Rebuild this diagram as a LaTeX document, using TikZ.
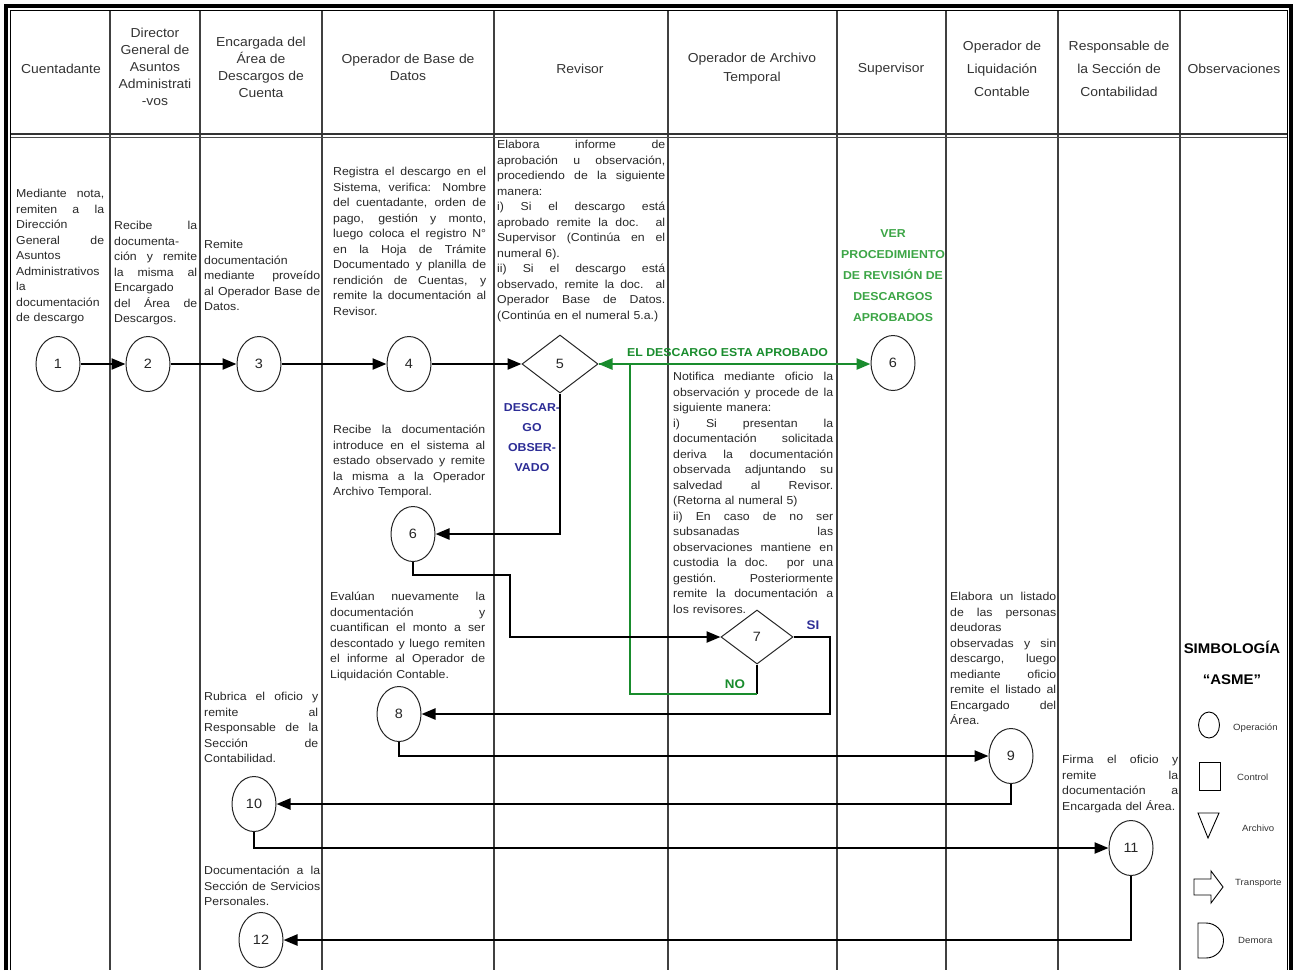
\documentclass[tikz,border=0pt]{standalone}
\usepackage{fontspec}
\setmainfont{Liberation Sans}[FakeStretch=1.07]
\usetikzlibrary{arrows.meta,shapes.geometric}
\definecolor{grn}{RGB}{25,140,45}
\definecolor{lgrn}{RGB}{60,165,70}
\definecolor{nav}{RGB}{45,45,150}
\definecolor{txt}{RGB}{40,40,40}
\newcommand\J[1]{\makebox[\linewidth][s]{\spaceskip=0pt\xspaceskip=0pt\relax #1}}
\newcommand\tsz{\fontsize{11.5}{15.5}\selectfont}
\begin{document}
\begin{tikzpicture}[x=1pt,y=-1pt,
 op/.style={ellipse, draw=black!85, line width=1pt, minimum width=44pt, minimum height=55pt, inner sep=0pt, font=\fontsize{13.5}{15}\selectfont, text=black!85},
 dec/.style={diamond, draw=black!85, line width=1pt, inner sep=0pt, font=\fontsize{13.5}{15}\selectfont, text=black!85},
 flow/.style={line width=2.3pt, draw=black, -{Triangle[length=14pt,width=11pt]}},
 gflow/.style={line width=2.6pt, draw=grn, -{Triangle[length=14pt,width=11pt]}},
 colline/.style={line width=1.1pt, draw=black!75},
 hdr/.style={align=center, font=\fontsize{13}{17}\selectfont, text=black!80, inner sep=0pt},
 body/.style={anchor=north west, inner sep=0pt, text width=#1, align=left, font=\tsz, text=txt},
 lab/.style={font=\fontsize{9}{10}\selectfont, text=black!80, anchor=west, inner sep=0pt},
]
\useasboundingbox (0,0) rectangle (1297,970);
% frame and columns
\foreach \x in {110,200,322,494,668,837,946,1058,1180} \draw[colline] (\x,10.5) -- (\x,970);
\draw[line width=1.2pt, black!80] (10.5,134) -- (1287,134);
\draw[line width=0.7pt, black!70] (10.5,137.5) -- (1287,137.5);
\draw[line width=3.2pt] (6,970) -- (6,6) -- (1291,6) -- (1291,970);
\draw[line width=0.7pt] (10.5,970) -- (10.5,10.5) -- (1287,10.5) -- (1287,970);
% headers
\node[hdr] (h1) at (61,69) {Cuentadante};
\node[hdr] (h2) at (155,67) {Director\\General de\\Asuntos\\Administrati\\-vos};
\node[hdr] (h3) at (261,67) {Encargada del\\Área de\\Descargos de\\Cuenta};
\node[hdr] (h4) at (408,67) {Operador de Base de\\Datos};
\node[hdr] (h5) at (580,69) {Revisor};
\node[hdr, font=\fontsize{13}{19}\selectfont] (h6) at (752,69) {Operador de Archivo\\Temporal};
\node[hdr] (h7) at (891,69) {Supervisor};
\node[hdr, font=\fontsize{13}{23}\selectfont] (h8) at (1002,69) {Operador de\\Liquidación\\Contable};
\node[hdr, font=\fontsize{13}{23}\selectfont] (h9) at (1119,69) {Responsable de\\la Sección de\\Contabilidad};
\node[hdr] (h10) at (1234,69) {Observaciones};
% text blocks
\node[body=88pt] (t1) at (16,189) {\J{Mediante nota,}\\ \J{remiten a la}\\ Dirección\\ \J{General de}\\ Asuntos\\ Administrativos\\ la\\ documentación\\ de descargo};
\node[body=83pt] (t2) at (114,221) {\J{Recibe la}\\ documenta-\\ \J{ción y remite}\\ \J{la misma al}\\ Encargado\\ \J{del Área de}\\ Descargos.};
\node[body=116pt] (t3) at (204,240) {Remite\\ documentación\\ \J{mediante proveído}\\ \J{al Operador Base de}\\ Datos.};
\node[body=153pt] (t4) at (333,167) {\J{Registra el descargo en el}\\ \J{Sistema, verifica: Nombre}\\ \J{del cuentadante, orden de}\\ \J{pago, gestión y monto,}\\ \J{luego coloca el registro N°}\\ \J{en la Hoja de Trámite}\\ \J{Documentado y planilla de}\\ \J{rendición de Cuentas, y}\\ \J{remite la documentación al}\\ Revisor.};
\node[body=168pt] (t5) at (497,140) {\J{Elabora informe de}\\ \J{aprobación u observación,}\\ \J{procediendo de la siguiente}\\ manera:\\ \J{i) Si el descargo está}\\ \J{aprobado remite la doc. al}\\ \J{Supervisor (Continúa en el}\\ numeral 6).\\ \J{ii) Si el descargo está}\\ \J{observado, remite la doc. al}\\ \J{Operador Base de Datos.}\\ (Continúa en el numeral 5.a.)};
\node[body=160pt] (t6) at (673,372) {\J{Notifica mediante oficio la}\\ \J{observación y procede de la}\\ siguiente manera:\\ \J{i) Si presentan la}\\ \J{documentación solicitada}\\ \J{deriva la documentación}\\ \J{observada adjuntando su}\\ \J{salvedad al Revisor.}\\ (Retorna al numeral 5)\\ \J{ii) En caso de no ser}\\ \J{subsanadas las}\\ \J{observaciones mantiene en}\\ \J{custodia la doc. por una}\\ \J{gestión. Posteriormente}\\ \J{remite la documentación a}\\ los revisores.};
\node[body=152pt] (t7) at (333,425) {\J{Recibe la documentación}\\ \J{introduce en el sistema al}\\ \J{estado observado y remite}\\ \J{la misma a la Operador}\\ Archivo Temporal.};
\node[body=155pt] (t8) at (330,592) {\J{Evalúan nuevamente la}\\ \J{documentación y}\\ \J{cuantifican el monto a ser}\\ \J{descontado y luego remiten}\\ \J{el informe al Operador de}\\ Liquidación Contable.};
\node[body=114pt] (t9) at (204,692) {\J{Rubrica el oficio y}\\ \J{remite al}\\ \J{Responsable de la}\\ \J{Sección de}\\ Contabilidad.};
\node[body=116pt] (t10) at (204,866) {\J{Documentación a la}\\ \J{Sección de Servicios}\\ Personales.};
\node[body=106pt] (t11) at (950,592) {\J{Elabora un listado}\\ \J{de las personas}\\ deudoras\\ \J{observadas y sin}\\ \J{descargo, luego}\\ \J{mediante oficio}\\ \J{remite el listado al}\\ \J{Encargado del}\\ Área.};
\node[body=116pt] (t12) at (1062,755) {\J{Firma el oficio y}\\ \J{remite la}\\ \J{documentación a}\\ Encargada del Área.};
% green / blue labels
\node[font=\fontsize{11.5}{21}\selectfont\bfseries, text=lgrn, align=center, inner sep=0pt] (ver) at (893,276) {VER\\PROCEDIMIENTO\\DE REVISIÓN DE\\DESCARGOS\\APROBADOS};
\node[font=\fontsize{11.5}{13}\selectfont\bfseries, text=grn, anchor=west, inner sep=0pt] (apr) at (627,353) {EL DESCARGO ESTA APROBADO};
\node[font=\fontsize{11.5}{20}\selectfont\bfseries, text=nav, align=center, inner sep=0pt] (obs) at (532,438) {DESCAR-\\GO\\OBSER-\\VADO};
\node[font=\fontsize{12.5}{14}\selectfont\bfseries, text=nav, inner sep=0pt] (si) at (813,625) {SI};
\node[font=\fontsize{12.5}{14}\selectfont\bfseries, text=grn, inner sep=0pt] (no) at (735,684) {NO};
% flow nodes
\node[op] (n1) at (58,364) {1};
\node[op] (n2) at (148,364) {2};
\node[op] (n3) at (259,364) {3};
\node[op] (n4) at (409,364) {4};
\node[dec, minimum width=76pt, minimum height=58pt] (n5) at (560,364) {5};
\node[op] (n6s) at (893,363) {6};
\node[op] (n6) at (413,534) {6};
\node[dec, minimum width=72pt, minimum height=54pt] (n7) at (757,637) {7};
\node[op] (n8) at (399,714) {8};
\node[op] (n9) at (1011,756) {9};
\node[op] (n10) at (254,804) {10};
\node[op] (n11) at (1131,848) {11};
\node[op] (n12) at (261,940) {12};
% connectors
\draw[flow] (n1) -- (n2);
\draw[flow] (n2) -- (n3);
\draw[flow] (n3) -- (n4);
\draw[flow] (n4) -- (n5);
\draw[gflow] (n5.east) -- (n6s.west |- n5.east);
\coordinate (c7no) at (757,694);
\draw[line width=2pt] (n7.south) -- (c7no);
\draw[gflow] (c7no) -| (630,364) -- (n5.east);
\draw[flow] (n5.south) |- (n6.east);
\draw[flow] (n6.south) |- (510,575) |- (n7.west);
\draw[flow] (n7.east) -- (830,637) |- (n8.east);
\draw[flow] (n8.south) |- (n9.west);
\draw[flow] (n9.south) |- (n10.east);
\draw[flow] (n10.south) |- (n11.west);
\draw[flow] (n11.south) |- (n12.east);
% legend
\node[font=\fontsize{14}{16}\selectfont\bfseries, inner sep=0pt] (simb) at (1232,647) {SIMBOLOGÍA};
\node[font=\fontsize{14}{16}\selectfont\bfseries, inner sep=0pt] (asme) at (1232,680) {``ASME''};
\draw[line width=0.9pt] (1209,725) ellipse (10.5 and 13);
\draw[line width=0.9pt] (1199,762) rectangle (1220,790);
\draw[line width=0.9pt] (1198,813) -- (1219,813) -- (1208,838) -- cycle;
\draw[line width=0.9pt] (1194,879) -- (1211,879) -- (1211,871) -- (1223,887) -- (1211,903) -- (1211,895) -- (1194,895) -- cycle;
\draw[line width=0.9pt] (1198,923) -- (1206,923) arc[start angle=-90, end angle=90, radius=17.5] -- (1198,958) -- cycle;
\node[lab] (l1) at (1233,728) {Operación};
\node[lab] (l2) at (1237,777) {Control};
\node[lab] (l3) at (1242,828) {Archivo};
\node[lab] (l4) at (1235,883) {Transporte};
\node[lab] (l5) at (1238,940) {Demora};
\end{tikzpicture}
\end{document}
